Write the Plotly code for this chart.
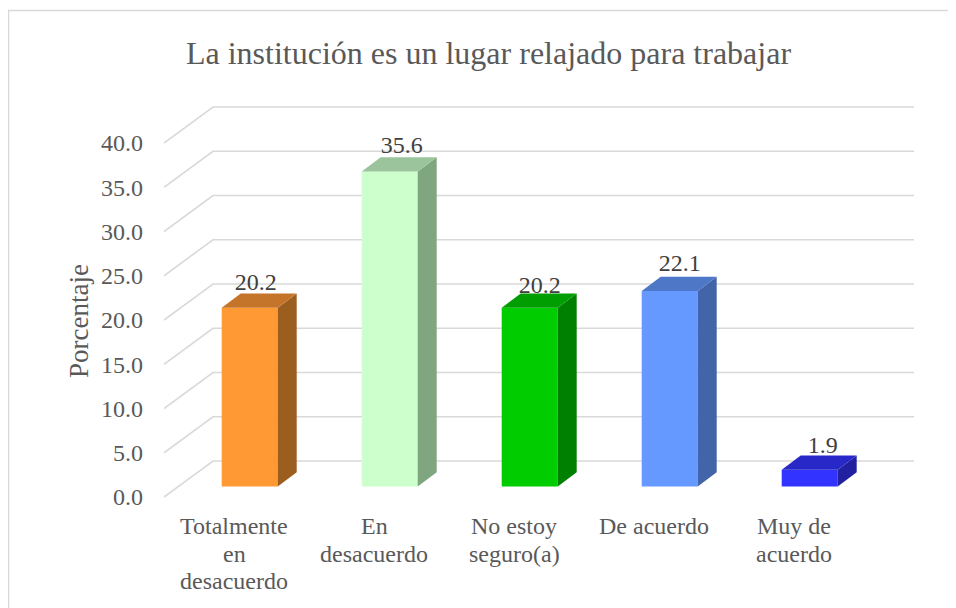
import plotly.graph_objects as go

categories = ["Totalmente en desacuerdo", "En desacuerdo", "No estoy seguro(a)", "De acuerdo", "Muy de acuerdo"]
category_lines = [["Totalmente", "en", "desacuerdo"], ["En", "desacuerdo"], ["No estoy", "seguro(a)"], ["De acuerdo"], ["Muy de", "acuerdo"]]
values = [20.2, 35.6, 20.2, 22.1, 1.9]
y_ticks = [0, 5, 10, 15, 20, 25, 30, 35, 40]
y_tick_labels = ["0.0", "5.0", "10.0", "15.0", "20.0", "25.0", "30.0", "35.0", "40.0"]

front_colors = ["#FF9933", "#CCFFCC", "#00CC00", "#6699FF", "#3333FF"]
side_colors = ["#9C5E1F", "#80A680", "#008000", "#4264A8", "#2020A0"]
top_colors = ["#C4752A", "#9CC49C", "#009E00", "#4F77C7", "#2828C8"]

# the page puts the figure 8 px from the window's top left corner
PAGE_MARGIN = 8
WIN_W, WIN_H = 956, 608

# pixel geometry of the plot area, in window pixels
L, R, T, B = 164, 920, 90, 510
Y0_PX = 497
PX_PER_UNIT = 8.85
PX_PER_CAT = 140.0
x_range = [-0.5, -0.5 + (R - L) / PX_PER_CAT]
y_range = [(Y0_PX - B) / PX_PER_UNIT, (Y0_PX - T) / PX_PER_UNIT]
cx = lambda px: px / PX_PER_CAT
cy = lambda px: px / PX_PER_UNIT

wall_dx, wall_dy = cx(49), cy(36)
bar_shift, bar_base = cx(15.7), cy(10.4)
bar_width = cx(56)
depth_dx, depth_dy = cx(19), cy(14.3)
label_dx_px = [6, 12, 10, 10, 13]
label_dy_px = [9.5, 10, 6.5, 12, 8]

grid_color = "#D9D9D9"
text_color = "#595959"
font = "Liberation Serif"

shapes = []
for v in y_ticks:
    shapes.append(dict(
        type="path", xref="x", yref="y", layer="below",
        path=f"M {-0.5},{v} L {-0.5 + wall_dx},{v + wall_dy} L {4.5 + wall_dx + cx(1)},{v + wall_dy}",
        line=dict(color=grid_color, width=1.6),
    ))
# outer chart border
to_px_x = lambda px: (px - L) / (R - L)
to_px_y = lambda px: (B - px) / (B - T)
shapes.append(dict(
    type="path", xref="paper", yref="paper", layer="below",
    path=f"M {to_px_x(8.5)},{to_px_y(620)} L {to_px_x(8.5)},{to_px_y(10.5)} L {to_px_x(970)},{to_px_y(10.5)}",
    line=dict(color=grid_color, width=1.5),
))

fig = go.Figure()
xs = [i + bar_shift for i in range(len(values))]
fig.add_trace(go.Bar(
    x=xs, y=values, base=[bar_base] * len(values), width=bar_width,
    marker=dict(color=front_colors, line=dict(width=0)), hoverinfo="skip",
))
for i, v in enumerate(values):
    x0, x1 = xs[i] - bar_width / 2, xs[i] + bar_width / 2
    y0, y1 = bar_base, bar_base + v
    fig.add_trace(go.Scatter(
        x=[x1, x1 + depth_dx, x1 + depth_dx, x1, x1],
        y=[y0, y0 + depth_dy, y1 + depth_dy, y1, y0],
        mode="none", fill="toself", fillcolor=side_colors[i], hoverinfo="skip",
    ))
    fig.add_trace(go.Scatter(
        x=[x0, x1, x1 + depth_dx, x0 + depth_dx, x0],
        y=[y1, y1, y1 + depth_dy, y1 + depth_dy, y1],
        mode="none", fill="toself", fillcolor=top_colors[i], hoverinfo="skip",
    ))

fig.add_trace(go.Scatter(
    x=[xs[i] + cx(label_dx_px[i]) for i in range(len(values))],
    y=[bar_base + values[i] + depth_dy + cy(label_dy_px[i]) for i in range(len(values))],
    mode="text", text=[f"{v:.1f}" for v in values], textposition="middle center",
    textfont=dict(family=font, size=24, color="#404040"), cliponaxis=False, hoverinfo="skip",
))

annotations = []
line_y_px = [526, 554, 581]
for i, lines in enumerate(category_lines):
    for j, s in enumerate(lines):
        annotations.append(dict(
            x=i, xref="x", y=to_px_y(line_y_px[j]), yref="paper", text=s, showarrow=False,
            xanchor="center", yanchor="middle", font=dict(family=font, size=24, color=text_color),
        ))
annotations.append(dict(
    x=to_px_x(79), xref="paper", y=to_px_y(321), yref="paper", text="Porcentaje", textangle=-90,
    showarrow=False, xanchor="center", yanchor="middle", font=dict(family=font, size=27, color=text_color),
))

fig_w, fig_h = WIN_W - PAGE_MARGIN, WIN_H - PAGE_MARGIN
fig.update_layout(
    width=fig_w, height=fig_h, autosize=False, showlegend=False,
    paper_bgcolor="white", plot_bgcolor="rgba(0,0,0,0)",
    margin=dict(l=L - PAGE_MARGIN, r=WIN_W - R, t=T - PAGE_MARGIN, b=WIN_H - B, pad=0, autoexpand=False),
    title=dict(text="La institución es un lugar relajado para trabajar",
               x=(488.5 - PAGE_MARGIN) / fig_w, y=1 - (53 - PAGE_MARGIN) / fig_h,
               xanchor="center", yanchor="middle", xref="container", yref="container",
               font=dict(family=font, size=32, color=text_color)),
    xaxis=dict(range=x_range, showgrid=False, zeroline=False, showline=False, showticklabels=False, ticks=""),
    yaxis=dict(range=y_range, tickmode="array", tickvals=y_ticks, ticktext=y_tick_labels,
               showgrid=False, zeroline=False, showline=False, ticks="", ticklabelstandoff=20,
               tickfont=dict(family=font, size=24, color=text_color)),
    shapes=shapes, annotations=annotations,
)
fig.write_html("out.html", default_width=f"{fig_w}px", default_height=f"{fig_h}px")
